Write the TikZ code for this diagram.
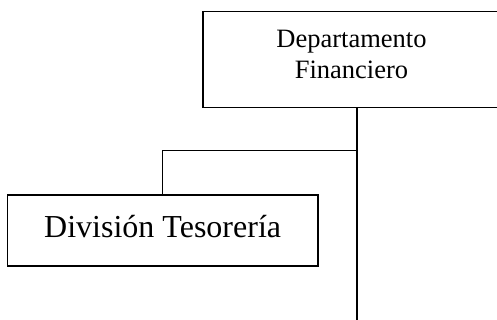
\documentclass[tikz,border=0pt]{standalone}
\usepackage{fontspec}
\setmainfont{Liberation Serif}
\begin{document}
\begin{tikzpicture}[x=1pt,y=-1pt,line width=1.6pt,
  unitbox/.style={draw,rectangle,inner sep=0pt},
  lbl/.style={anchor=base,inner sep=0pt}]
\useasboundingbox (0,0) rectangle (497,320);
% head office box (runs past the right edge)
\node[unitbox,minimum width=298.3pt,minimum height=96pt] (dep) at (351.85,59.7) {};
\node[lbl,font=\fontsize{26.5}{31}\selectfont] (depA) at (351.5,48) {Departamento};
\node[lbl,font=\fontsize{26.5}{31}\selectfont] (depB) at (351.5,79) {Financiero};
% subordinate unit
\node[unitbox,minimum width=310.7pt,minimum height=70.7pt] (tes) at (162.65,230.35) {};
\node[lbl,font=\fontsize{32}{38}\selectfont] (tesT) at (162.65,237.7) {División Tesorería};
% connectors
\coordinate (trunkend) at (357,321);
\coordinate (tee) at (357,150.7);
\draw (dep.south -| trunkend) -- (trunkend);
\draw (tes.north) |- (tee);
\end{tikzpicture}
\end{document}
